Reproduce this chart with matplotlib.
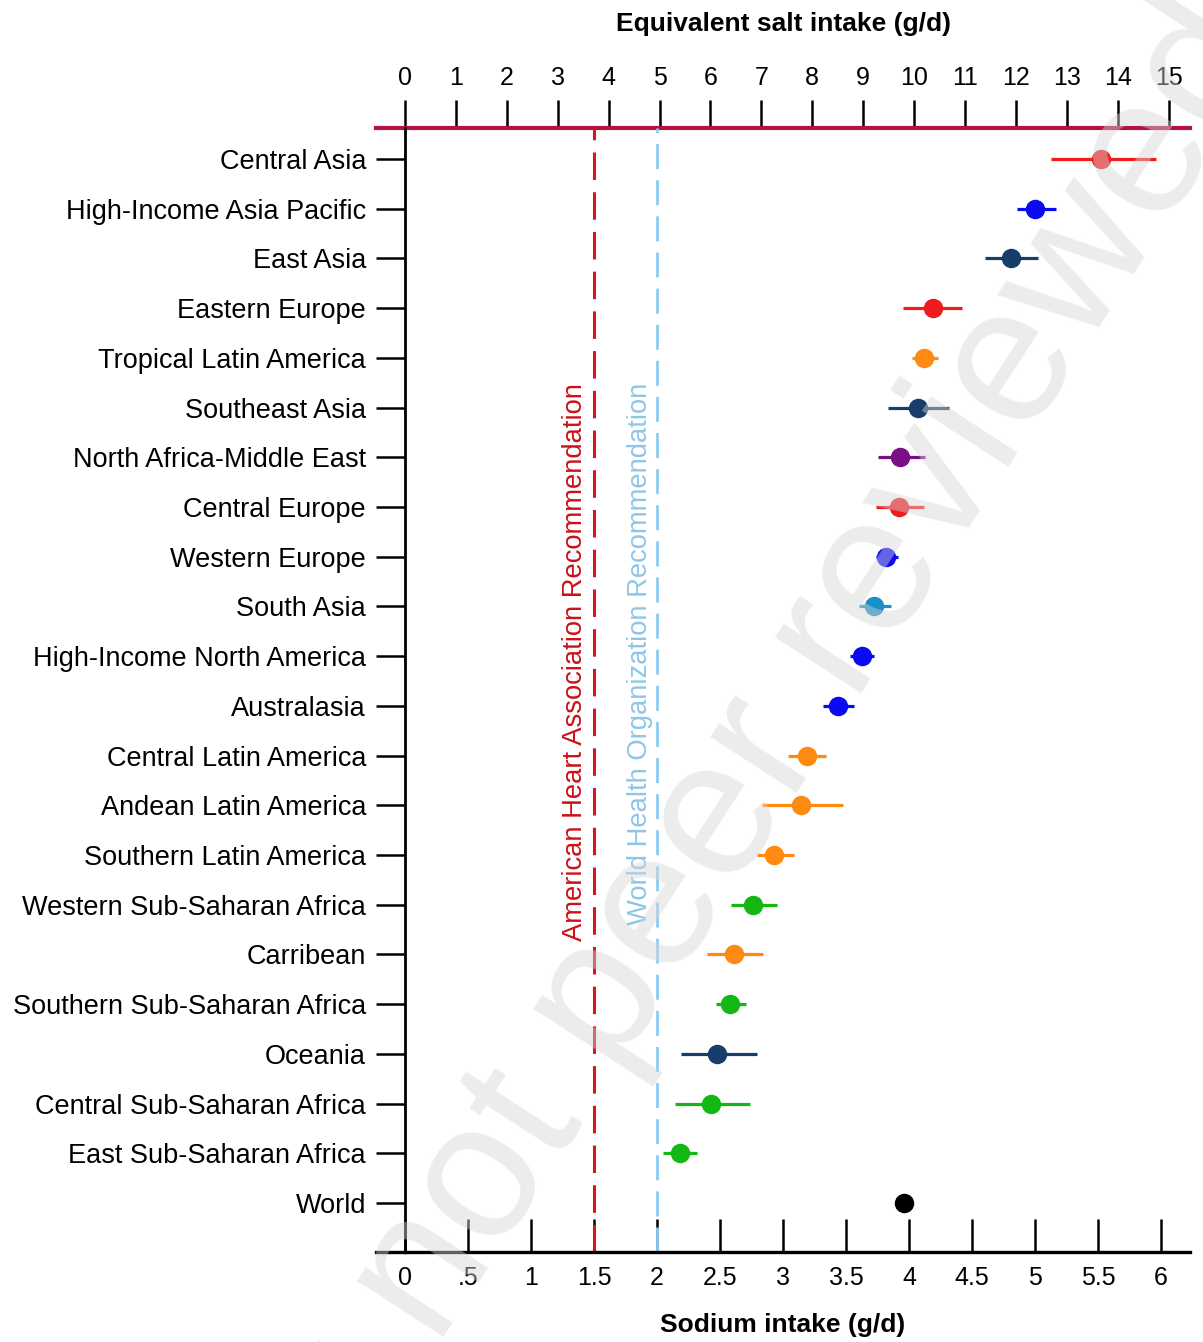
"""Regional sodium intake forest plot, sodium (bottom) vs. equivalent salt (top)."""

import matplotlib

matplotlib.use("Agg")
import matplotlib.pyplot as plt  # noqa: E402
from matplotlib.lines import Line2D  # noqa: E402

plt.rcParams["font.family"] = ["Liberation Sans", "DejaVu Sans"]
NARROW = ["Liberation Sans Narrow", "Liberation Sans", "DejaVu Sans"]

regions = [
    "Central Asia", "High-Income Asia Pacific", "East Asia", "Eastern Europe",
    "Tropical Latin America", "Southeast Asia", "North Africa-Middle East",
    "Central Europe", "Western Europe", "South Asia", "High-Income North America",
    "Australasia", "Central Latin America", "Andean Latin America",
    "Southern Latin America", "Western Sub-Saharan Africa", "Carribean",
    "Southern Sub-Saharan Africa", "Oceania", "Central Sub-Saharan Africa",
    "East Sub-Saharan Africa", "World",
]
sodium = [5.52, 5.00, 4.81, 4.19, 4.12, 4.07, 3.93, 3.92, 3.82, 3.72, 3.63,
          3.44, 3.19, 3.14, 2.93, 2.76, 2.61, 2.58, 2.48, 2.43, 2.18, 3.96]
ci_low = [5.13, 4.86, 4.60, 3.95, 4.02, 3.83, 3.75, 3.74, 3.74, 3.60, 3.53,
          3.32, 3.04, 2.83, 2.79, 2.59, 2.40, 2.47, 2.19, 2.14, 2.05, 3.96]
ci_high = [5.96, 5.17, 5.02, 4.42, 4.23, 4.32, 4.13, 4.12, 3.91, 3.86, 3.72,
           3.56, 3.34, 3.48, 3.09, 2.95, 2.84, 2.71, 2.79, 2.74, 2.32, 3.96]
colors = ["#ee1c1c", "#0a0af0", "#173e6b", "#ee1c1c", "#ff8a12", "#173e6b",
          "#7b0f86", "#ee1c1c", "#0a0af0", "#1a8fc8", "#0a0af0", "#0a0af0",
          "#ff8a12", "#ff8a12", "#ff8a12", "#14b814", "#ff8a12", "#14b814",
          "#173e6b", "#14b814", "#14b814", "#000000"]

sodium_ticks = [0, 0.5, 1, 1.5, 2, 2.5, 3, 3.5, 4, 4.5, 5, 5.5, 6]
sodium_ticklabels = ["0", ".5", "1", "1.5", "2", "2.5", "3", "3.5", "4",
                     "4.5", "5", "5.5", "6"]
salt_ticks = list(range(16))
SALT_PER_SODIUM = 2.475

aha_limit, who_limit = 1.5, 2.0

fig = plt.figure(figsize=(12.03, 13.42), dpi=100)
ax = fig.add_axes([405 / 1203, 1 - 1252 / 1342, 785 / 1203, 1124 / 1342])

ys = list(range(len(regions)))
for y, m, lo, hi, c in zip(ys, sodium, ci_low, ci_high, colors):
    ax.plot([lo, hi], [y, y], color=c, lw=2.3, solid_capstyle="butt", zorder=3)
    ax.plot([m], [y], "o", color=c, ms=13, zorder=4)

ax.axvline(aha_limit, color="#d8141e", lw=2.2, dashes=(9, 4), zorder=2)
ax.axvline(who_limit, color="#8ecbf0", lw=2.0, dashes=(9, 4), zorder=2)
tr = ax.get_xaxis_transform()
ax.text(1.35, 0.773, "American Heart Association Recommendation", transform=tr,
        rotation=90, ha="center", va="top", fontsize=19.7, color="#cc1018")
ax.text(1.865, 0.773, "World Health Organization Recommendation", transform=tr,
        rotation=90, ha="center", va="top", fontsize=19.7, color="#8ec6e8")

ax.set_xlim(0, 6.23)
ax.set_ylim(len(regions) - 1 + 0.986, -0.624)
ax.set_yticks(ys)
ax.set_yticklabels(regions, fontsize=19.5)
ax.tick_params(axis="y", length=21, width=1.8, pad=7, color="black")
ax.set_xticks(sodium_ticks)
ax.set_xticklabels(sodium_ticklabels, fontsize=18, family=NARROW)
ax.tick_params(axis="x", direction="in", length=24, width=1.8, pad=10)

for side in ("right", "top"):
    ax.spines[side].set_visible(False)
ax.spines["left"].set_linewidth(2.0)
ax.spines["bottom"].set_linewidth(2.4)

sec = ax.secondary_xaxis("top", functions=(lambda x: x * SALT_PER_SODIUM,
                                           lambda s: s / SALT_PER_SODIUM))
sec.set_xticks(salt_ticks)
sec.set_xticklabels([str(t) for t in salt_ticks], fontsize=18, family=NARROW)
sec.tick_params(direction="out", length=20, width=1.8, pad=7)
sec.spines["top"].set_color("#b3123c")
sec.spines["top"].set_linewidth(3.0)

# axis lines run a little left of the y-axis, as in the original
ax.add_line(Line2D([-0.037, 0], [0, 0], transform=ax.transAxes, color="black",
                   lw=2.4, clip_on=False))
ax.add_line(Line2D([-0.037, 0], [1, 1], transform=ax.transAxes, color="#b3123c",
                   lw=3.0, clip_on=False))

fig.text(783 / 1203, 1 - 24 / 1342, "Equivalent salt intake (g/d)", ha="center",
         va="center", fontsize=19, fontweight="bold", family=NARROW)
fig.text(783 / 1203, 1 - 1325 / 1342, "Sodium intake (g/d)", ha="center",
         va="center", fontsize=19, fontweight="bold", family=NARROW)

# faint preprint watermark laid over the figure
fig.text(615, 1342 - 980, "Preprint not peer reviewed", transform=None,
         fontsize=140, color="#d6d6d6", alpha=0.45, rotation=57,
         rotation_mode="anchor", ha="center", va="center", zorder=10)

fig.savefig("out.png", dpi=100)
